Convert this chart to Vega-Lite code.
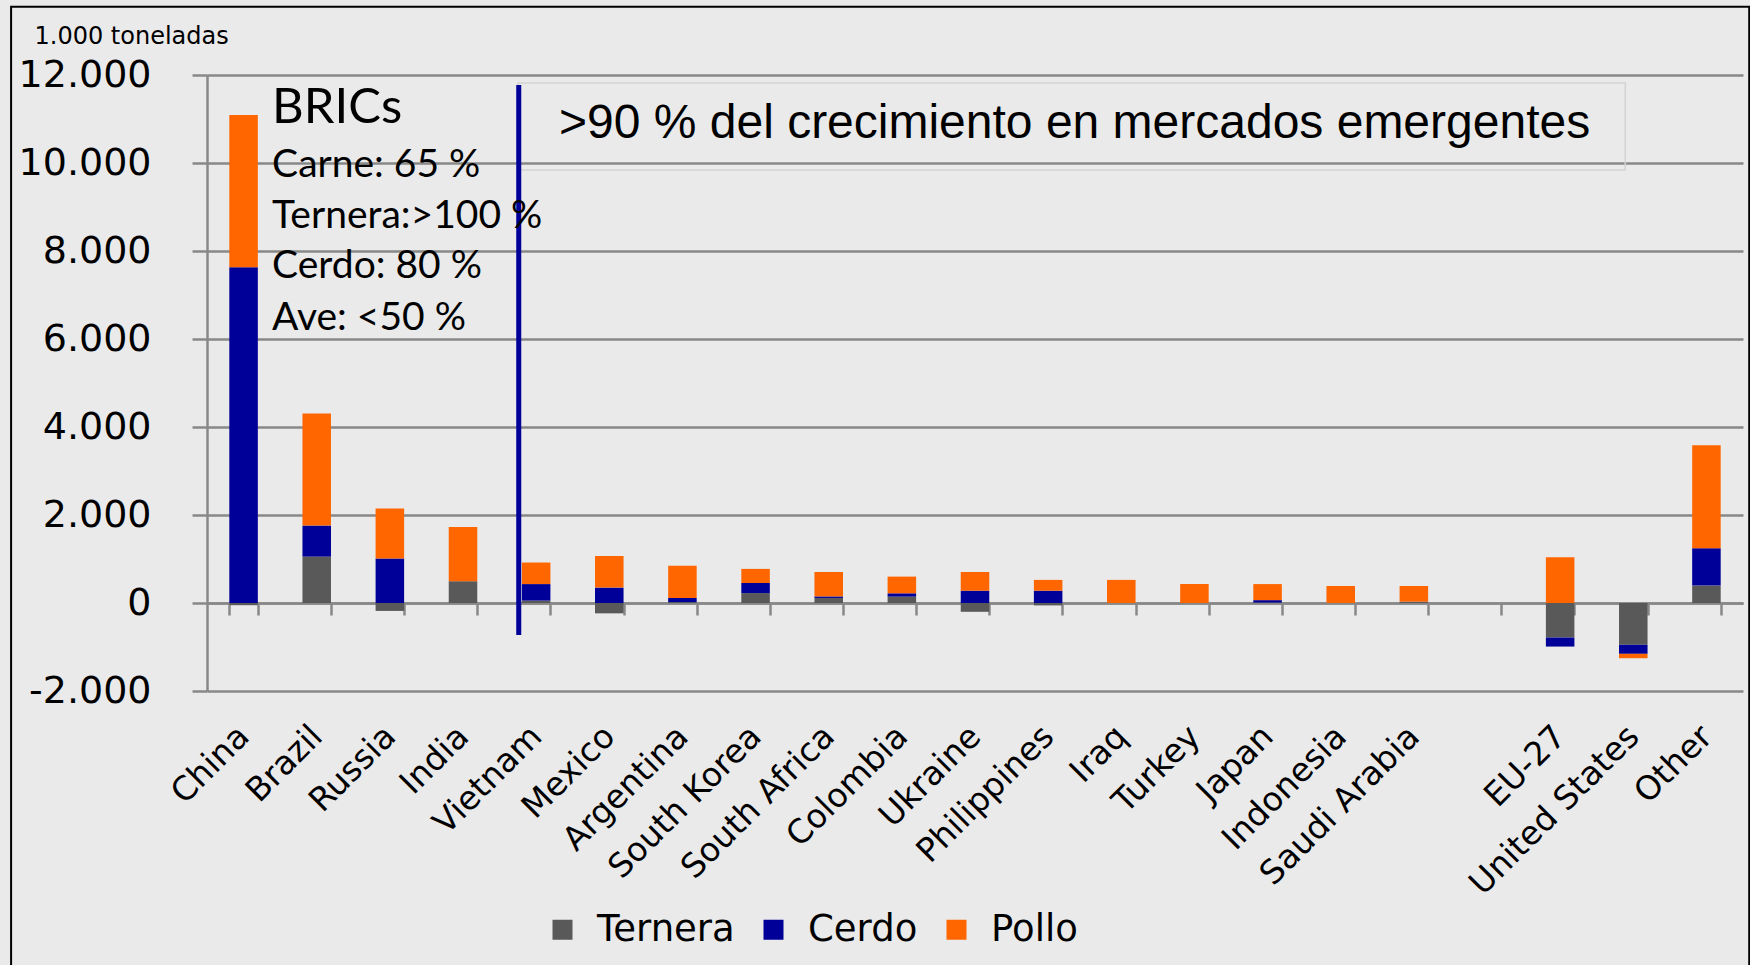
{
  "$schema": "https://vega.github.io/schema/vega-lite/v6.json",
  "width": 1536,
  "height": 616,
  "autosize": {"type": "none"},
  "padding": {"left": 207, "top": 75, "right": 7, "bottom": 274},
  "background": "#EAEAEA",
  "config": {"view": {"stroke": null}, "font": "DejaVu Sans"},
  "datasets": {
    "meat": [
      {"country": "China", "type": "Ternera", "value": -50},
      {"country": "China", "type": "Cerdo", "value": 7630},
      {"country": "China", "type": "Pollo", "value": 3460},
      {"country": "Brazil", "type": "Ternera", "value": 1055},
      {"country": "Brazil", "type": "Cerdo", "value": 705},
      {"country": "Brazil", "type": "Pollo", "value": 2545},
      {"country": "Russia", "type": "Ternera", "value": -180},
      {"country": "Russia", "type": "Cerdo", "value": 1010},
      {"country": "Russia", "type": "Pollo", "value": 1140},
      {"country": "India", "type": "Ternera", "value": 495},
      {"country": "India", "type": "Pollo", "value": 1235},
      {"country": "Vietnam", "type": "Ternera", "value": 55},
      {"country": "Vietnam", "type": "Cerdo", "value": 375},
      {"country": "Vietnam", "type": "Pollo", "value": 490},
      {"country": "Mexico", "type": "Ternera", "value": -235},
      {"country": "Mexico", "type": "Cerdo", "value": 350},
      {"country": "Mexico", "type": "Pollo", "value": 720},
      {"country": "Argentina", "type": "Ternera", "value": 20},
      {"country": "Argentina", "type": "Cerdo", "value": 95},
      {"country": "Argentina", "type": "Pollo", "value": 730},
      {"country": "South Korea", "type": "Ternera", "value": 225},
      {"country": "South Korea", "type": "Cerdo", "value": 230},
      {"country": "South Korea", "type": "Pollo", "value": 320},
      {"country": "South Africa", "type": "Ternera", "value": 115},
      {"country": "South Africa", "type": "Cerdo", "value": 35},
      {"country": "South Africa", "type": "Pollo", "value": 555},
      {"country": "Colombia", "type": "Ternera", "value": 145},
      {"country": "Colombia", "type": "Cerdo", "value": 75},
      {"country": "Colombia", "type": "Pollo", "value": 380},
      {"country": "Ukraine", "type": "Ternera", "value": -200},
      {"country": "Ukraine", "type": "Cerdo", "value": 280},
      {"country": "Ukraine", "type": "Pollo", "value": 425},
      {"country": "Philippines", "type": "Ternera", "value": -55},
      {"country": "Philippines", "type": "Cerdo", "value": 280},
      {"country": "Philippines", "type": "Pollo", "value": 245},
      {"country": "Iraq", "type": "Pollo", "value": 525},
      {"country": "Turkey", "type": "Pollo", "value": 432},
      {"country": "Japan", "type": "Ternera", "value": 10},
      {"country": "Japan", "type": "Cerdo", "value": 55},
      {"country": "Japan", "type": "Pollo", "value": 365},
      {"country": "Indonesia", "type": "Pollo", "value": 387},
      {"country": "Saudi Arabia", "type": "Ternera", "value": 30},
      {"country": "Saudi Arabia", "type": "Pollo", "value": 357},
      {"country": "EU-27", "type": "Ternera", "value": -785},
      {"country": "EU-27", "type": "Cerdo", "value": -205},
      {"country": "EU-27", "type": "Pollo", "value": 1040},
      {"country": "United States", "type": "Ternera", "value": -950},
      {"country": "United States", "type": "Cerdo", "value": -205},
      {"country": "United States", "type": "Pollo", "value": -100},
      {"country": "Other", "type": "Ternera", "value": 395},
      {"country": "Other", "type": "Cerdo", "value": 850},
      {"country": "Other", "type": "Pollo", "value": 2340}
    ]
  },
  "layer": [
    {
      "data": {"name": "meat"},
      "transform": [
        {"calculate": "indexof(['Ternera', 'Cerdo', 'Pollo'], datum.type)", "as": "stackOrder"}
      ],
      "mark": {"type": "bar"},
      "encoding": {
        "x": {
          "field": "country",
          "type": "nominal",
          "sort": null,
          "scale": {
            "domain": ["China", "Brazil", "Russia", "India", "Vietnam", "Mexico", "Argentina", "South Korea", "South Africa", "Colombia", "Ukraine", "Philippines", "Iraq", "Turkey", "Japan", "Indonesia", "Saudi Arabia", " ", "EU-27", "United States", "Other"],
            "paddingInner": 0.61,
            "paddingOuter": 0.305
          },
          "axis": {
            "title": null,
            "offset": -88,
            "grid": false,
            "domainColor": "#888888",
            "domainWidth": 2.5,
            "tickColor": "#888888",
            "tickWidth": 2.5,
            "tickSize": 12,
            "tickBand": "extent",
            "tickExtra": true,
            "labelAngle": -45,
            "labelAlign": "right",
            "labelBaseline": "middle",
            "labelFontSize": 33,
            "labelFont": "DejaVu Sans",
            "labelColor": "black",
            "labelPadding": 116,
            "labelLimit": 400
          }
        },
        "y": {
          "field": "value",
          "type": "quantitative",
          "stack": "zero",
          "scale": {"domain": [-2000, 12000], "nice": false, "zero": false},
          "axis": {
            "values": [-2000, 0, 2000, 4000, 6000, 8000, 10000, 12000],
            "labelExpr": "datum.value < 0 ? '-' + replace(format(-datum.value, ','), ',', '.') : replace(format(datum.value, ','), ',', '.')",
            "grid": true,
            "gridColor": "#888888",
            "gridWidth": 2.5,
            "domainColor": "#888888",
            "domainWidth": 2.5,
            "tickColor": "#888888",
            "tickWidth": 2.5,
            "tickSize": 15,
            "labelFontSize": 38,
            "labelFont": "DejaVu Sans",
            "labelColor": "black",
            "labelPadding": 41,
            "title": "1.000 toneladas",
            "titleAngle": 0,
            "titleX": -173,
            "titleY": -32,
            "titleAlign": "left",
            "titleBaseline": "alphabetic",
            "titleFontSize": 24,
            "titleFontWeight": "normal",
            "titleFont": "DejaVu Sans",
            "titleColor": "black"
          }
        },
        "color": {
          "field": "type",
          "type": "nominal",
          "scale": {"domain": ["Ternera", "Cerdo", "Pollo"], "range": ["#595959", "#000099", "#FF6600"]},
          "legend": {
            "title": null,
            "orient": "none",
            "legendX": 337,
            "legendY": 836,
            "direction": "horizontal",
            "symbolType": "square",
            "symbolSize": 400,
            "symbolStrokeWidth": 0,
            "labelFontSize": 37,
            "labelFont": "DejaVu Sans",
            "labelColor": "black",
            "labelOffset": 16,
            "columnPadding": 20
          }
        },
        "order": {"field": "stackOrder", "type": "quantitative"}
      }
    },
    {
      "data": {"values": [{}]},
      "mark": {"type": "rect", "fill": "transparent", "stroke": "#D3D3D3", "strokeWidth": 1.5},
      "encoding": {
        "x": {"datum": "Vietnam", "bandPosition": -0.13},
        "x2": {"datum": "United States", "bandPosition": 0.22},
        "y": {"datum": 11818},
        "y2": {"datum": 9841}
      }
    },
    {
      "data": {"values": [{}]},
      "mark": {"type": "rect", "fill": "transparent", "stroke": "black", "strokeWidth": 2, "clip": false},
      "encoding": {
        "x": {"datum": "China", "bandPosition": -7.65},
        "x2": {"datum": "Other", "bandPosition": 2.0},
        "y": {"datum": 13552},
        "y2": {"datum": -8500}
      }
    },
    {
      "data": {"values": [{}]},
      "mark": {"type": "rule", "color": "#000099", "strokeWidth": 5},
      "encoding": {
        "x": {"datum": "Vietnam", "bandPosition": -0.11},
        "y": {"datum": 11770},
        "y2": {"datum": -730}
      }
    },
    {
      "data": {"values": [{}]},
      "mark": {"type": "text", "text": ">90 % del crecimiento en mercados emergentes", "align": "left", "baseline": "alphabetic", "font": "Liberation Sans", "fontSize": 48, "color": "black"},
      "encoding": {"x": {"datum": "Vietnam", "bandPosition": 1.3}, "y": {"datum": 10568}}
    },
    {
      "data": {"values": [{}]},
      "mark": {"type": "text", "text": "BRICs", "align": "left", "baseline": "alphabetic", "font": "Lato", "fontSize": 49, "color": "black"},
      "encoding": {"x": {"datum": "China", "bandPosition": 1.5}, "y": {"datum": 10909}}
    },
    {
      "data": {"values": [{}]},
      "mark": {"type": "text", "text": "Carne: 65 %", "align": "left", "baseline": "alphabetic", "font": "Lato", "fontSize": 39, "color": "black"},
      "encoding": {"x": {"datum": "China", "bandPosition": 1.5}, "y": {"datum": 9689}}
    },
    {
      "data": {"values": [{}]},
      "mark": {"type": "text", "text": "Ternera:>100 %", "align": "left", "baseline": "alphabetic", "font": "Lato", "fontSize": 39, "color": "black"},
      "encoding": {"x": {"datum": "China", "bandPosition": 1.5}, "y": {"datum": 8516}}
    },
    {
      "data": {"values": [{}]},
      "mark": {"type": "text", "text": "Cerdo: 80 %", "align": "left", "baseline": "alphabetic", "font": "Lato", "fontSize": 39, "color": "black"},
      "encoding": {"x": {"datum": "China", "bandPosition": 1.5}, "y": {"datum": 7380}}
    },
    {
      "data": {"values": [{}]},
      "mark": {"type": "text", "text": "Ave: <50 %", "align": "left", "baseline": "alphabetic", "font": "Lato", "fontSize": 39, "color": "black"},
      "encoding": {"x": {"datum": "China", "bandPosition": 1.5}, "y": {"datum": 6205}}
    }
  ]
}
